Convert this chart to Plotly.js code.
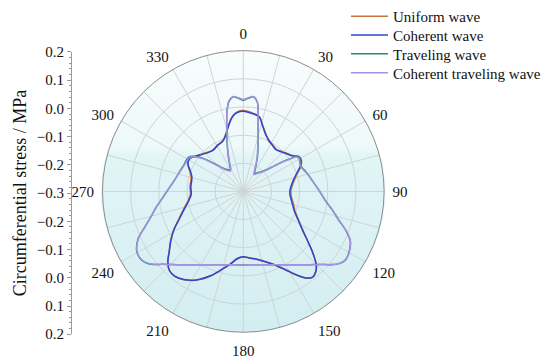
<!DOCTYPE html>
<html>
<head>
<meta charset="utf-8">
<script src="https://cdn.plot.ly/plotly-3.0.1.min.js"></script>
<style>html,body{margin:0;padding:0;background:#fff;}#chart{width:550px;height:362px;}</style>
</head>
<body>
<div id="chart"></div>
<script>
// ---- data (stress in MPa vs angle in degrees) ----
const seriesNames = ["Uniform wave", "Coherent wave", "Traveling wave", "Coherent traveling wave"];
const seriesColors = ["#c8743a", "#2f45d6", "#2a8a6e", "#a491e2"];

const thetaStanding = [0,7,12,17,22,27,32,38,44,49,54,58,62,67,71,77,82,88,94,100,106,111,118,124,128,131,135,138,141,144,147,152,158,164,170,175,180,185,190,195,201,208,214,219,223,227,231,236,241,247,253,260,267,275,281,286,291,295,298,302,306,310,317,324,331,336,339,343,347,350,353,356,360];

const uniformWave = [-0.013,-0.020,-0.028,-0.059,-0.083,
-0.097,-0.104,-0.110,-0.103,-0.094,
-0.083,-0.066,-0.066,-0.079,-0.096,
-0.113,-0.123,-0.130,-0.130,-0.123,
-0.113,-0.103,-0.076,-0.041,-0.007,
0.025,0.066,0.085,0.092,0.081,
0.057,0.014,-0.021,-0.042,-0.056,
-0.063,-0.067,-0.060,-0.038,-0.014,
0.021,0.057,0.078,0.088,0.085,
0.067,0.039,0.011,-0.017,-0.052,
-0.077,-0.100,-0.112,-0.110,-0.110,
-0.107,-0.096,-0.083,-0.076,-0.076,
-0.087,-0.097,-0.111,-0.117,-0.111,
-0.108,-0.103,-0.087,-0.062,-0.041,
-0.025,-0.016,-0.013];

const coherentWave = [-0.015,-0.022,-0.029,-0.061,-0.085,
-0.099,-0.106,-0.112,-0.105,-0.096,
-0.085,-0.068,-0.068,-0.082,-0.099,
-0.117,-0.127,-0.134,-0.134,-0.127,
-0.117,-0.106,-0.078,-0.043,-0.008,
0.024,0.066,0.084,0.091,0.080,
0.056,0.013,-0.022,-0.043,-0.057,
-0.064,-0.068,-0.061,-0.039,-0.015,
0.020,0.056,0.077,0.087,0.084,
0.066,0.038,0.010,-0.018,-0.054,
-0.080,-0.103,-0.115,-0.113,-0.113,
-0.110,-0.099,-0.085,-0.078,-0.078,
-0.089,-0.099,-0.113,-0.119,-0.113,
-0.110,-0.105,-0.089,-0.064,-0.043,
-0.027,-0.018,-0.015];

const thetaTraveling = [0,3,6,9,11,12,14,16,18,20,23,26,29,32,35,38,42,47,50,53,55,57,60,64,68,72,76,80,85,90,97,102,107,111,115,120,124,127,130,133,136,140,145,150,155,160,170,180,190,200,205,210,215,220,224,228,231,234,237,241,246,250,255,260,265,270,280,288,294,298,302,305,307,310,312,315,319,324,328,331,333,337,340,342,344,346,348,350,351,354,357,360];

const travelingWave = [0.024,0.031,0.038,0.020,-0.022,
-0.046,-0.082,-0.110,-0.131,-0.149,
-0.173,-0.198,-0.215,-0.224,-0.221,
-0.215,-0.207,-0.187,-0.163,-0.124,
-0.099,-0.071,-0.068,-0.075,-0.075,
-0.068,-0.061,-0.054,-0.043,-0.029,
-0.004,0.024,0.056,0.091,0.119,
0.133,0.137,0.126,0.105,0.080,
0.061,0.040,0.018,0.001,-0.013,
-0.023,-0.036,-0.039,-0.036,-0.023,
-0.013,0.001,0.018,0.040,0.061,
0.087,0.112,0.130,0.137,0.133,
0.108,0.073,0.038,0.013,-0.011,
-0.029,-0.054,-0.064,-0.069,-0.069,
-0.071,-0.082,-0.096,-0.120,-0.142,
-0.166,-0.191,-0.205,-0.210,-0.205,
-0.194,-0.163,-0.135,-0.113,-0.089,
-0.058,-0.018,0.013,0.024,0.038,
0.031,0.024];

const coherentTravelingWave = [0.026,0.033,0.039,0.021,-0.023,
-0.048,-0.085,-0.113,-0.134,-0.153,
-0.177,-0.202,-0.220,-0.229,-0.226,
-0.219,-0.210,-0.190,-0.166,-0.128,
-0.103,-0.075,-0.071,-0.077,-0.077,
-0.070,-0.062,-0.055,-0.043,-0.028,
-0.003,0.025,0.057,0.092,0.120,
0.134,0.136,0.125,0.104,0.080,
0.061,0.040,0.018,0.001,-0.013,
-0.023,-0.036,-0.039,-0.036,-0.023,
-0.013,0.001,0.018,0.040,0.061,
0.087,0.111,0.129,0.136,0.132,
0.107,0.072,0.038,0.013,-0.010,
-0.028,-0.053,-0.065,-0.071,-0.072,
-0.074,-0.086,-0.100,-0.124,-0.146,
-0.170,-0.195,-0.209,-0.214,-0.209,
-0.198,-0.167,-0.138,-0.116,-0.091,
-0.059,-0.018,0.014,0.026,0.039,
0.033,0.026];

const angleTicks = [0,15,30,45,60,75,90,105,120,135,150,165,180,195,210,225,240,255,270,285,300,315,330,345];
const angleLabels = ["0","","30","","60","","90","","120","","150","","180","","210","","240","","270","","300","","330",""];
const radialGrid = [-0.2,-0.1,0.0,0.1];
const leftTickVals = [-0.5,-0.4,-0.3,-0.2,-0.1,0,0.1,0.2,0.3,0.4,0.5];
const leftTickText = ["0.2","0.1","0.0","\u22120.1","\u22120.2","\u22120.3","\u22120.2","\u22120.1","0.0","0.1","0.2"];

// ---- background gradient for the polar disc ----
function discGradient(){
  const c = document.createElement('canvas');
  c.width = 284; c.height = 284;
  const g = c.getContext('2d');
  const grd = g.createLinearGradient(0,0,0,284);
  grd.addColorStop(0,'#f9fdfd');
  grd.addColorStop(0.34,'#eef9fa');
  grd.addColorStop(0.38,'#e2f5f7');
  grd.addColorStop(1,'#d3eef1');
  g.fillStyle = grd;
  g.beginPath(); g.arc(142,142,142,0,2*Math.PI); g.fill();
  return c.toDataURL();
}

const FONT = "Liberation Serif, Times New Roman, serif";
const thetas = [thetaStanding, thetaStanding, thetaTraveling, thetaTraveling];
const values = [uniformWave, coherentWave, travelingWave, coherentTravelingWave];
const legendIds = ['legend','legend2','legend3','legend4'];
const legendRowsY = [13.5, 32.5, 51.5, 70.5];

const traces = values.map((r,i)=>({
  type:'scatterpolar', mode:'lines',
  r: r, theta: thetas[i], name: seriesNames[i],
  line:{color: seriesColors[i], width:1.5, shape:'spline', smoothing:0.8},
  subplot:'polar', legend: legendIds[i]
}));
// dummy trace for the left cartesian axis
traces.push({type:'scatter', x:[0], y:[0], mode:'markers', marker:{opacity:0}, showlegend:false, hoverinfo:'skip', xaxis:'x', yaxis:'y'});

const pd = {x0:101.3/550, x1:385.3/550, y0:30/362, y1:314/362};

const layout = {
  width:550, height:362,
  margin:{l:0,r:0,t:0,b:0},
  paper_bgcolor:'#ffffff',
  plot_bgcolor:'rgba(0,0,0,0)',
  font:{family:FONT, size:15, color:'#111'},
  showlegend:true,
  polar:{
    domain:{x:[pd.x0,pd.x1], y:[pd.y0,pd.y1]},
    bgcolor:'rgba(0,0,0,0)',
    radialaxis:{range:[-0.3,0.2], tickvals:radialGrid, showticklabels:false, ticks:'',
                showline:false, gridcolor:'#cfd4d5', gridwidth:1},
    angularaxis:{rotation:90, direction:'clockwise', tickvals:angleTicks, ticktext:angleLabels,
                 gridcolor:'#cfd4d5', linecolor:'#8c8c8c', linewidth:1, ticks:'outside', ticklen:5,
                 tickcolor:'rgba(0,0,0,0)', tickfont:{family:FONT,size:15,color:'#111'}}
  },
  xaxis:{domain:[72/550, 80/550], visible:false, range:[-1,1], fixedrange:true},
  yaxis:{domain:[28/362, 312.7/362], range:[-0.5,0.5], anchor:'x', side:'left',
         tickvals:leftTickVals, ticktext:leftTickText, showgrid:false, zeroline:false,
         showline:true, linecolor:'#9a9a9a', linewidth:1, ticks:'outside', ticklen:4, tickcolor:'#9a9a9a',
         minor:{dtick:0.02, ticks:'outside', ticklen:2, tickcolor:'#9a9a9a'},
         tickfont:{family:FONT,size:15,color:'#111'},
         title:{text:'Circumferential stress / MPa', font:{family:FONT,size:18,color:'#111'}, standoff:5},
         automargin:false},
  images:[{source:discGradient(), xref:'paper', yref:'paper', x:pd.x0, y:pd.y1,
           sizex:pd.x1-pd.x0, sizey:pd.y1-pd.y0, xanchor:'left', yanchor:'top', sizing:'stretch', layer:'below'}]
};
legendIds.forEach((id,i)=>{
  layout[id] = {x:346/550, y:1 - legendRowsY[i]/362, xanchor:'left', yanchor:'middle',
                bgcolor:'rgba(0,0,0,0)', itemwidth:37,
                font:{family:FONT, size:15, color:'#111'}};
});

Plotly.newPlot('chart', traces, layout, {staticPlot:true, displayModeBar:false});
</script>
</body>
</html>
